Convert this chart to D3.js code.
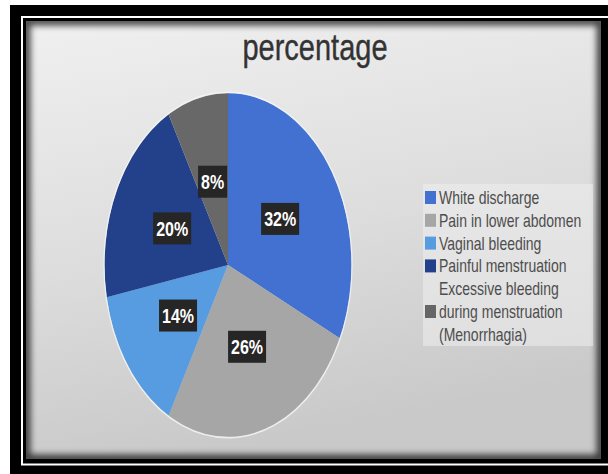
<!DOCTYPE html>
<meta charset="utf-8">
<style>

body {
  margin: 0;
  background: #fff;
}

svg {
  display: block;
  font-family: "Liberation Sans", Arial, sans-serif;
}

.legend text {
  font-size: 14px;
  fill: #4d4d4d;
}

.label text {
  font-size: 16px;
  font-weight: bold;
  fill: #fff;
}

</style>
<body>
<script src="https://cdn.jsdelivr.net/npm/d3@7"></script>
<script>

// slices, clockwise from 12 o'clock
var categories = ["White discharge", "Pain in lower abdomen", "Vaginal bleeding",
                  "Painful menstruation", "Excessive bleeding during menstruation (Menorrhagia)"];
var values = [32, 26, 14, 20, 8];
var legendLines = [["White discharge"], ["Pain in lower abdomen"], ["Vaginal bleeding"],
                   ["Painful menstruation"], ["Excessive bleeding", "during menstruation", "(Menorrhagia)"]];
var colors = ["#4271d2", "#a6a6a6", "#579be0", "#23418a", "#686868"];

var width = 608,
    height = 474,
    cx = 228, cy = 265,
    rx = 123.5, ry = 172,
    stretch = 1.28;   // the whole picture is squeezed tall

var svg = d3.select("body").append("svg")
    .attr("width", width)
    .attr("height", height);

var defs = svg.append("defs");

var grad = defs.append("linearGradient")
    .attr("id", "bg")
    .attr("x1", 0).attr("y1", 0).attr("x2", 0.25).attr("y2", 1);
grad.append("stop").attr("offset", "0%").attr("stop-color", "#f0f0f0");
grad.append("stop").attr("offset", "55%").attr("stop-color", "#dddddd");
grad.append("stop").attr("offset", "100%").attr("stop-color", "#c9c9c9");

defs.append("filter")
    .attr("id", "soft")
    .attr("x", "-10%").attr("y", "-10%").attr("width", "120%").attr("height", "120%")
  .append("feGaussianBlur")
    .attr("stdDeviation", 3);

defs.append("clipPath")
    .attr("id", "panel")
  .append("rect")
    .attr("x", 26).attr("y", 21)
    .attr("width", 575).attr("height", 438);

// frame: black, thin white line, black, grey panel
svg.append("rect")
    .attr("x", 10).attr("y", 5)
    .attr("width", 620).attr("height", 480)
    .attr("fill", "#000");

svg.append("rect")
    .attr("x", 22).attr("y", 17)
    .attr("width", 600).attr("height", 447.5)
    .attr("fill", "none")
    .attr("stroke", "#fff")
    .attr("stroke-width", 2);

svg.append("rect")
    .attr("x", 26).attr("y", 21)
    .attr("width", 575).attr("height", 438)
    .attr("fill", "url(#bg)");

svg.append("g")
    .attr("clip-path", "url(#panel)")
  .append("rect")
    .attr("x", 26).attr("y", 21)
    .attr("width", 575).attr("height", 438)
    .attr("fill", "none")
    .attr("stroke", "#000")
    .attr("stroke-opacity", 0.7)
    .attr("stroke-width", 9)
    .attr("filter", "url(#soft)");

// title
svg.append("g")
    .attr("transform", "translate(315,60) scale(1," + stretch + ")")
  .append("text")
    .attr("text-anchor", "middle")
    .style("font-size", "29px")
    .style("fill", "#333")
    .style("stroke", "#333")
    .style("stroke-width", 0.3)
    .text("percentage");

// pie, drawn as a circle and stretched to the ellipse
var pie = d3.pie().sort(null).value(function(d) { return d; });
var arcs = pie(values);
var arc = d3.arc().innerRadius(0).outerRadius(rx);

var pieG = svg.append("g")
    .attr("transform", "translate(" + cx + "," + cy + ") scale(1," + (ry / rx) + ")");

pieG.selectAll("path")
    .data(arcs)
  .enter().append("path")
    .attr("d", arc)
    .attr("fill", function(d, i) { return colors[i]; });

pieG.append("ellipse")
    .attr("rx", rx + 0.5).attr("ry", rx + 0.5)
    .attr("fill", "none")
    .attr("stroke", "#f6f6f6")
    .attr("stroke-opacity", 0.8)
    .attr("stroke-width", 1.2);

// data labels in black boxes
var label = svg.selectAll(".label")
    .data(arcs)
  .enter().append("g")
    .attr("class", "label")
    .attr("transform", function(d) {
      var c = arc.centroid(d);
      return "translate(" + (cx + c[0]) + "," + (cy + c[1] * ry / rx) + ") scale(1," + stretch + ")";
    });

label.append("text")
    .attr("text-anchor", "middle")
    .attr("dy", "0.36em")
    .text(function(d) { return d.data + "%"; })
    .each(function() {
      var b = this.getBBox();
      d3.select(this.parentNode).insert("rect", "text")
          .attr("x", b.x - 3)
          .attr("y", -12.5)
          .attr("width", b.width + 6)
          .attr("height", 25)
          .attr("fill", "#262626");
    });

// legend
var lineH = 22.8,
    legendTop = 197.5,
    rowStart = [];
legendLines.reduce(function(acc, lines) { rowStart.push(acc); return acc + lines.length; }, 0);

svg.append("rect")
    .attr("x", 423).attr("y", 184)
    .attr("width", 170).attr("height", 162)
    .attr("fill", "#efefef")
    .attr("opacity", 0.55);

var legend = svg.selectAll(".legend")
    .data(legendLines)
  .enter().append("g")
    .attr("class", "legend");

legend.append("rect")
    .attr("x", 425)
    .attr("y", function(d, i) {
      var mid = legendTop + (rowStart[i] + (d.length - 1) / 2) * lineH;
      return mid - 6.5;
    })
    .attr("width", 11)
    .attr("height", 13)
    .attr("fill", function(d, i) { return i === 4 ? "#666" : colors[i]; });

legend.each(function(lines, i) {
  var g = d3.select(this);
  lines.forEach(function(t, k) {
    g.append("g")
        .attr("transform", "translate(439," + (legendTop + (rowStart[i] + k) * lineH) + ") scale(1," + stretch + ")")
      .append("text")
        .attr("dy", "0.36em")
        .text(t);
  });
});

</script>
